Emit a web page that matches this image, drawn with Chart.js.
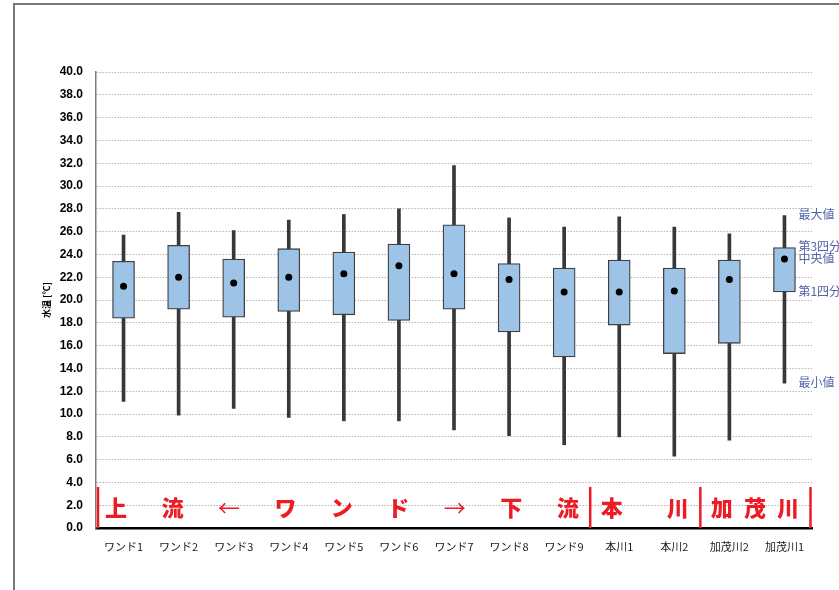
<!DOCTYPE html>
<html>
<head>
<meta charset="utf-8">
<script src="https://cdn.jsdelivr.net/npm/chart.js@4/dist/chart.umd.min.js"></script>
<style>
  html, body { margin: 0; padding: 0; background: #ffffff; }
  #wrap { width: 839px; height: 590px; position: relative; }
</style>
</head>
<body>
<div id="wrap"><canvas id="c" width="839" height="590"></canvas></div>
<script>
// Water temperature summary per sampling site (℃)
const categories = ['ワンド1', 'ワンド2', 'ワンド3', 'ワンド4', 'ワンド5', 'ワンド6', 'ワンド7',
                    'ワンド8', 'ワンド9', '本川1', '本川2', '加茂川2', '加茂川1'];
const maxVals = [25.7, 27.7, 26.1, 27.0, 27.5, 28.0, 31.8, 27.2, 26.4, 27.3, 26.4, 25.8, 27.4];
const q3Vals  = [23.4, 24.8, 23.6, 24.5, 24.2, 24.9, 26.6, 23.2, 22.8, 23.5, 22.8, 23.5, 24.6];
const medVals = [21.2, 22.0, 21.5, 22.0, 22.3, 23.0, 22.3, 21.8, 20.7, 20.7, 20.8, 21.8, 23.6];
const q1Vals  = [18.4, 19.2, 18.5, 19.0, 18.7, 18.2, 19.2, 17.2, 15.0, 17.8, 15.3, 16.2, 20.7];
const minVals = [11.1, 9.9, 10.5, 9.7, 9.4, 9.4, 8.6, 8.1, 7.3, 8.0, 6.3, 7.7, 12.7];

// Y axis range and tick step
const yMin = 0, yMax = 40, yStep = 2;
const yTitle = '水温 [℃]';

// Site groups shown in red along the bottom of the plot
const regionFirst = [0, 9, 11];
const regionLast  = [8, 10, 12];
const regionText  = ['上流←ワンド→下流', '本川', '加茂川'];
const regionTop = 3.6;

// Legend of the box parts, placed beside the last box
const keyLabels = ['最大値', '第3四分位', '中央値', '第1四分位', '最小値'];
const keyValues = [maxVals, q3Vals, medVals, q1Vals, minVals];

const whiskers = minVals.map((v, i) => [v, maxVals[i]]);
const boxes = q1Vals.map((v, i) => [v, q3Vals[i]]);

const overlay = {
  id: 'overlay',
  beforeDraw(chart) {
    const ctx = chart.ctx;
    ctx.save();
    ctx.fillStyle = '#ffffff';
    ctx.fillRect(0, 0, chart.width, chart.height);
    ctx.restore();
  },
  afterDraw(chart) {
    const ctx = chart.ctx;
    const x = chart.scales.x, y = chart.scales.y;
    const area = chart.chartArea;
    ctx.save();

    // outer frame
    ctx.strokeStyle = '#7a7a7a';
    ctx.lineWidth = 2;
    ctx.beginPath();
    ctx.moveTo(14, 590);
    ctx.lineTo(14, 4);
    ctx.lineTo(839, 4);
    ctx.stroke();

    // y axis title
    ctx.save();
    ctx.translate(47, (area.top + area.bottom) / 2);
    ctx.rotate(-Math.PI / 2);
    ctx.fillStyle = '#000000';
    ctx.font = 'bold 9px "Noto Sans CJK JP"';
    ctx.textAlign = 'center';
    ctx.textBaseline = 'middle';
    ctx.fillText(yTitle, 0, 0);
    ctx.restore();

    // red group separators and labels
    const slot = (x.getPixelForValue(1) - x.getPixelForValue(0));
    const yTop = y.getPixelForValue(regionTop);
    const yBot = area.bottom;
    ctx.strokeStyle = '#ED1C24';
    ctx.lineWidth = 2.5;
    const edges = [area.left + 2];
    regionLast.forEach(i => edges.push(x.getPixelForValue(i) + slot / 2 - 1.5));
    edges.forEach(ex => {
      ctx.beginPath();
      ctx.moveTo(ex, yTop);
      ctx.lineTo(ex, yBot);
      ctx.stroke();
    });
    ctx.fillStyle = '#ED1C24';
    ctx.textAlign = 'center';
    ctx.textBaseline = 'middle';
    const textY = y.getPixelForValue(1.75);
    regionText.forEach((t, g) => {
      const left = x.getPixelForValue(regionFirst[g]) - slot / 2;
      const right = x.getPixelForValue(regionLast[g]) + slot / 2;
      const chars = Array.from(t);
      const a = left + 20, b = right - 24;
      chars.forEach((ch, k) => {
        const cx = chars.length > 1 ? a + (b - a) * k / (chars.length - 1) : (a + b) / 2;
        const arrow = (ch === '←' || ch === '→');
        ctx.font = (arrow ? '400 ' : '900 ') + '22px "Noto Sans CJK JP"';
        ctx.fillText(ch, cx, textY);
      });
    });

    // box part key beside the last box
    const last = categories.length - 1;
    const keyX = x.getPixelForValue(last) + 14;
    ctx.fillStyle = '#5263A8';
    ctx.font = '12px "Noto Sans CJK JP"';
    ctx.textAlign = 'left';
    ctx.textBaseline = 'middle';
    keyLabels.forEach((lab, k) => {
      ctx.fillText(lab, keyX, y.getPixelForValue(keyValues[k][last]) - 1);
    });
    ctx.restore();
  }
};

new Chart(document.getElementById('c'), {
  data: {
    labels: categories,
    datasets: [
      {
        type: 'line',
        label: '中央値',
        data: medVals,
        showLine: false,
        pointRadius: 3.5,
        pointBackgroundColor: '#000000',
        pointBorderColor: '#000000',
        pointBorderWidth: 0,
        order: 0
      },
      {
        type: 'bar',
        label: '四分位範囲',
        data: boxes,
        backgroundColor: '#9DC3E6',
        borderColor: '#404040',
        borderWidth: 1.3,
        borderSkipped: false,
        barThickness: 22,
        grouped: false,
        order: 1
      },
      {
        type: 'bar',
        label: '最小値〜最大値',
        data: whiskers,
        backgroundColor: '#383838',
        borderWidth: 0,
        barThickness: 3,
        grouped: false,
        order: 2
      }
    ]
  },
  options: {
    responsive: false,
    animation: false,
    devicePixelRatio: 1,
    layout: { padding: { left: 40, top: 72, right: 27, bottom: 0 } },
    plugins: { legend: { display: false }, tooltip: { enabled: false } },
    scales: {
      x: {
        type: 'category',
        offset: true,
        grid: { display: false, drawTicks: false },
        border: { display: true, color: '#000000', width: 2.5 },
        ticks: {
          color: '#1a1a1a',
          font: { family: '"Noto Sans CJK JP"', size: 11 },
          padding: 12,
          maxRotation: 0,
          autoSkip: false
        },
        afterFit(scale) { scale.height = 62; }
      },
      y: {
        min: yMin,
        max: yMax,
        grid: { color: '#b4b4b4', lineWidth: 1, drawTicks: false },
        border: { display: true, color: '#808080', width: 1.5, dash: [1.5, 1.5] },
        ticks: {
          stepSize: yStep,
          color: '#000000',
          padding: 13,
          font: { family: '"Liberation Sans"', size: 12, weight: 'bold' },
          callback: v => Number(v).toFixed(1)
        },
        afterFit(scale) { scale.width = 56; }
      }
    }
  },
  plugins: [overlay]
});
</script>
</body>
</html>
